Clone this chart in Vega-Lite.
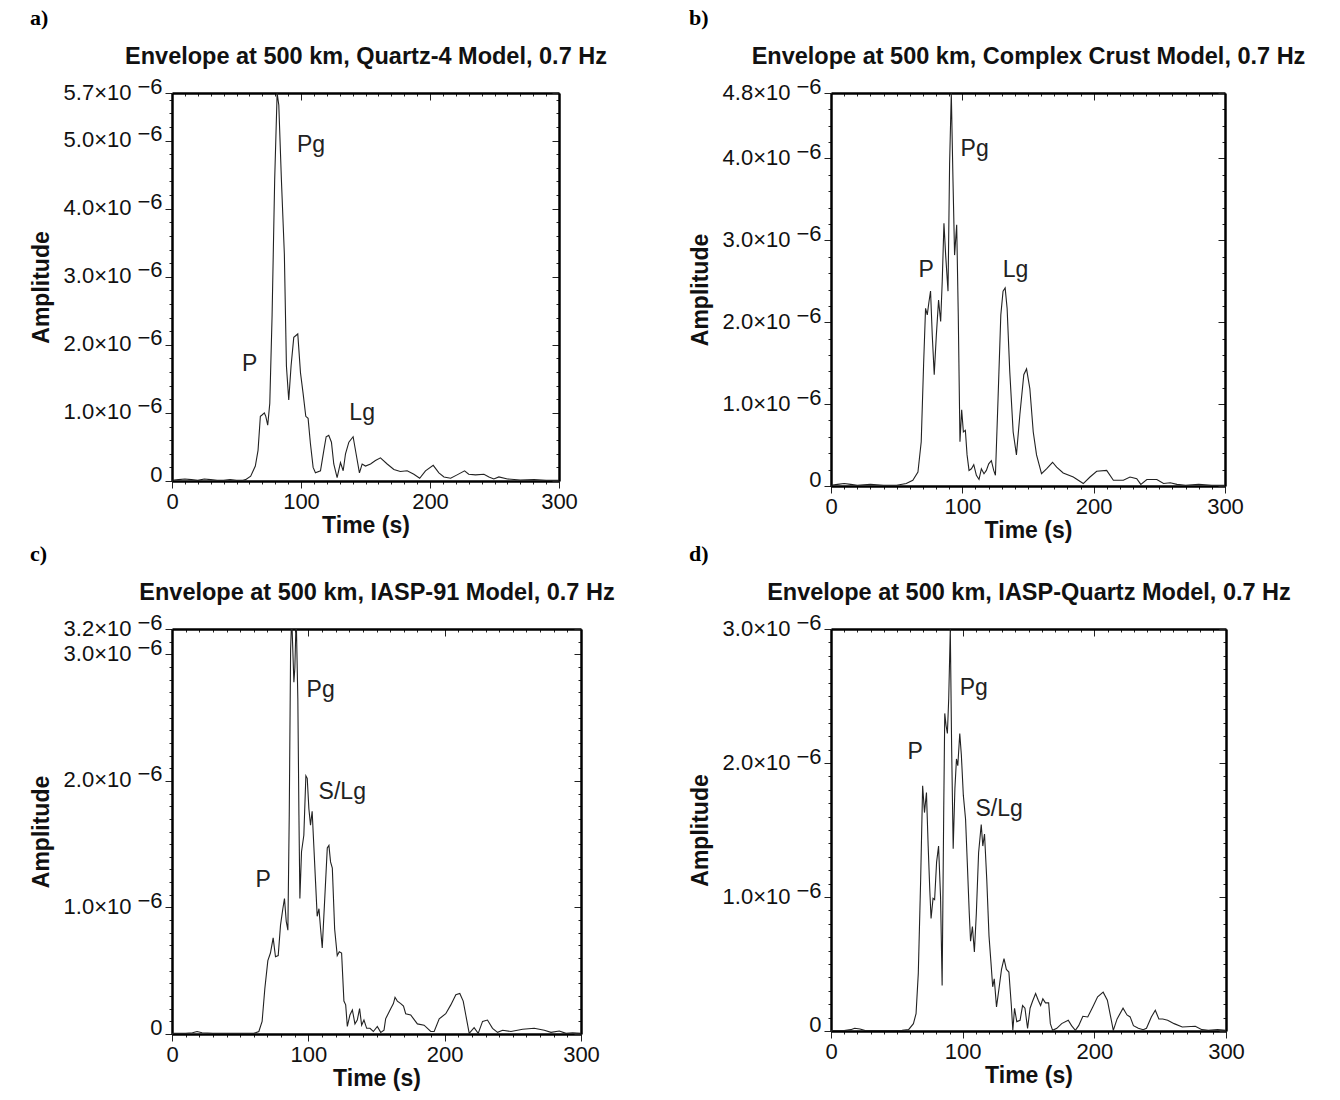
{
  "$schema": "https://vega.github.io/schema/vega-lite/v6.json",
  "background": "white",
  "padding": {"left": 30, "top": 6, "right": 5, "bottom": 5},
  "config": {
    "font": "Liberation Sans",
    "view": {"stroke": null},
    "axis": {"grid": false, "domainColor": "#000", "domainWidth": 2.5, "tickColor": "#222", "tickWidth": 1, "labelFont": "Liberation Sans", "labelFontSize": 22, "labelColor": "#111", "titleFont": "Liberation Sans", "titleFontSize": 23, "titleFontWeight": "bold", "titleColor": "#111", "labelFlush": false, "labelOverlap": false, "labelBound": false},
    "title": {"font": "Liberation Serif", "fontSize": 22, "fontWeight": "bold", "color": "#000", "anchor": "start", "frame": "bounds", "offset": 15}
  },
  "datasets": {
    "a": [{"t":0,"amp":0.01},{"t":5,"amp":0.02},{"t":10,"amp":0.03},{"t":15,"amp":0.02},{"t":20,"amp":0.01},{"t":25,"amp":0.03},{"t":30,"amp":0.02},{"t":35,"amp":0.01},{"t":40,"amp":0.01},{"t":45,"amp":0.02},{"t":50,"amp":0.01},{"t":55,"amp":0.01},{"t":57,"amp":0.02},{"t":61,"amp":0.07},{"t":64.6,"amp":0.22},{"t":66.7,"amp":0.45},{"t":68.5,"amp":0.95},{"t":69.8,"amp":0.97},{"t":71.6,"amp":1.0},{"t":72.7,"amp":0.95},{"t":74.2,"amp":0.82},{"t":75.8,"amp":1.14},{"t":77.6,"amp":2.44},{"t":79.6,"amp":4.43},{"t":81.5,"amp":5.7},{"t":82.8,"amp":5.52},{"t":84.8,"amp":4.43},{"t":87.1,"amp":3.33},{"t":88.7,"amp":1.69},{"t":90.5,"amp":1.19},{"t":92.3,"amp":1.69},{"t":94.4,"amp":2.11},{"t":97.5,"amp":2.16},{"t":99.6,"amp":1.59},{"t":101.6,"amp":1.29},{"t":103.7,"amp":0.95},{"t":105.5,"amp":0.92},{"t":107.3,"amp":0.55},{"t":109.4,"amp":0.2},{"t":111.2,"amp":0.12},{"t":115.1,"amp":0.15},{"t":117.7,"amp":0.45},{"t":119.5,"amp":0.65},{"t":121.5,"amp":0.67},{"t":123.6,"amp":0.57},{"t":125.4,"amp":0.25},{"t":128,"amp":0.05},{"t":130.6,"amp":0.27},{"t":132.7,"amp":0.15},{"t":134.5,"amp":0.4},{"t":137.1,"amp":0.57},{"t":140.4,"amp":0.65},{"t":142.7,"amp":0.4},{"t":145.3,"amp":0.12},{"t":147.4,"amp":0.25},{"t":150,"amp":0.22},{"t":153.9,"amp":0.25},{"t":157.7,"amp":0.3},{"t":161.6,"amp":0.34},{"t":166.8,"amp":0.25},{"t":172,"amp":0.17},{"t":177,"amp":0.14},{"t":182.3,"amp":0.15},{"t":187.5,"amp":0.1},{"t":192,"amp":0.04},{"t":196.5,"amp":0.15},{"t":202.5,"amp":0.23},{"t":206.9,"amp":0.12},{"t":210.8,"amp":0.06},{"t":216,"amp":0.04},{"t":221,"amp":0.09},{"t":226.8,"amp":0.15},{"t":230,"amp":0.1},{"t":235.3,"amp":0.09},{"t":241.8,"amp":0.1},{"t":245.7,"amp":0.06},{"t":249.5,"amp":0.03},{"t":253.4,"amp":0.06},{"t":260,"amp":0.03},{"t":270,"amp":0.015},{"t":280.6,"amp":0.02},{"t":290,"amp":0.01},{"t":300,"amp":0.01}],
    "b": [{"t":0,"amp":0.01},{"t":5,"amp":0.02},{"t":10,"amp":0.03},{"t":15,"amp":0.02},{"t":20,"amp":0.01},{"t":30,"amp":0.02},{"t":40,"amp":0.01},{"t":50,"amp":0.01},{"t":57.3,"amp":0.03},{"t":62.3,"amp":0.07},{"t":66.2,"amp":0.17},{"t":68.7,"amp":0.54},{"t":70.5,"amp":1.48},{"t":72,"amp":2.17},{"t":73.3,"amp":2.09},{"t":74.6,"amp":2.25},{"t":75.8,"amp":2.38},{"t":77.1,"amp":1.84},{"t":78.6,"amp":1.36},{"t":80.2,"amp":1.84},{"t":81.9,"amp":2.27},{"t":83.5,"amp":2.01},{"t":84.7,"amp":2.5},{"t":86,"amp":3.21},{"t":87.3,"amp":2.82},{"t":89.1,"amp":2.38},{"t":90.3,"amp":3.93},{"t":91.6,"amp":4.8},{"t":92.9,"amp":3.72},{"t":94.1,"amp":2.82},{"t":95.7,"amp":3.19},{"t":96.9,"amp":2.09},{"t":98.2,"amp":0.54},{"t":99.5,"amp":0.93},{"t":100.8,"amp":0.66},{"t":102.3,"amp":0.68},{"t":103.6,"amp":0.38},{"t":105.1,"amp":0.19},{"t":106.9,"amp":0.21},{"t":108.7,"amp":0.26},{"t":110.7,"amp":0.13},{"t":112.7,"amp":0.08},{"t":114.5,"amp":0.21},{"t":116.5,"amp":0.15},{"t":118.3,"amp":0.19},{"t":120.1,"amp":0.27},{"t":122.1,"amp":0.31},{"t":123.9,"amp":0.19},{"t":125.2,"amp":0.13},{"t":127.2,"amp":1.07},{"t":129.3,"amp":2.09},{"t":131,"amp":2.38},{"t":132.6,"amp":2.42},{"t":134.1,"amp":2.17},{"t":136.1,"amp":1.4},{"t":138.7,"amp":0.66},{"t":141.2,"amp":0.38},{"t":143.8,"amp":0.87},{"t":146.8,"amp":1.36},{"t":148.9,"amp":1.43},{"t":151.4,"amp":1.19},{"t":154,"amp":0.66},{"t":156.5,"amp":0.38},{"t":160.3,"amp":0.15},{"t":164.1,"amp":0.21},{"t":168.7,"amp":0.29},{"t":171.8,"amp":0.23},{"t":176.8,"amp":0.16},{"t":184.5,"amp":0.11},{"t":192.1,"amp":0.03},{"t":197.2,"amp":0.11},{"t":202.3,"amp":0.18},{"t":209.9,"amp":0.19},{"t":215,"amp":0.07},{"t":222.6,"amp":0.07},{"t":227.7,"amp":0.11},{"t":232.8,"amp":0.09},{"t":235.9,"amp":0.02},{"t":240.5,"amp":0.08},{"t":248.1,"amp":0.08},{"t":253.2,"amp":0.03},{"t":258.3,"amp":0.04},{"t":263.4,"amp":0.02},{"t":270,"amp":0.01},{"t":280,"amp":0.02},{"t":290,"amp":0.01},{"t":300,"amp":0.01}],
    "c": [{"t":0,"amp":0.005},{"t":10,"amp":0.005},{"t":15,"amp":0.01},{"t":18.4,"amp":0.02},{"t":22,"amp":0.01},{"t":30,"amp":0.005},{"t":40,"amp":0.005},{"t":50,"amp":0.005},{"t":60,"amp":0.005},{"t":63.7,"amp":0.02},{"t":66.1,"amp":0.1},{"t":68.1,"amp":0.36},{"t":70.3,"amp":0.58},{"t":72.2,"amp":0.64},{"t":74.2,"amp":0.76},{"t":75.9,"amp":0.61},{"t":77.9,"amp":0.62},{"t":79.6,"amp":0.86},{"t":81.3,"amp":0.99},{"t":82.5,"amp":1.07},{"t":83.8,"amp":0.89},{"t":85,"amp":0.82},{"t":86,"amp":1.73},{"t":87,"amp":3.04},{"t":87.8,"amp":3.3},{"t":89.4,"amp":2.78},{"t":90.1,"amp":2.89},{"t":91.1,"amp":3.3},{"t":92.3,"amp":2.65},{"t":93.1,"amp":1.73},{"t":93.8,"amp":1.07},{"t":95,"amp":1.44},{"t":96.7,"amp":1.57},{"t":98.2,"amp":2.04},{"t":99.2,"amp":2.02},{"t":100.4,"amp":1.78},{"t":101.6,"amp":1.65},{"t":102.8,"amp":1.76},{"t":104.1,"amp":1.47},{"t":105.3,"amp":1.2},{"t":106.5,"amp":0.93},{"t":107.8,"amp":0.99},{"t":109,"amp":0.83},{"t":110.2,"amp":0.68},{"t":111.9,"amp":1.04},{"t":113.9,"amp":1.47},{"t":115.1,"amp":1.49},{"t":116.3,"amp":1.36},{"t":117.6,"amp":1.31},{"t":119.3,"amp":0.83},{"t":121.2,"amp":0.62},{"t":122.7,"amp":0.65},{"t":124.4,"amp":0.64},{"t":126.1,"amp":0.26},{"t":127.4,"amp":0.23},{"t":128.6,"amp":0.06},{"t":130.5,"amp":0.15},{"t":132.3,"amp":0.19},{"t":134.2,"amp":0.08},{"t":135.9,"amp":0.11},{"t":137.6,"amp":0.2},{"t":139.1,"amp":0.07},{"t":140.8,"amp":0.11},{"t":142.8,"amp":0.045},{"t":145.2,"amp":0.045},{"t":147.7,"amp":0.02},{"t":150.6,"amp":0.06},{"t":153.1,"amp":0.013},{"t":155.5,"amp":0.03},{"t":156.7,"amp":0.12},{"t":160.4,"amp":0.2},{"t":162.4,"amp":0.24},{"t":163.6,"amp":0.29},{"t":165.3,"amp":0.26},{"t":167.8,"amp":0.24},{"t":169.8,"amp":0.22},{"t":171.4,"amp":0.16},{"t":175.1,"amp":0.15},{"t":180,"amp":0.08},{"t":184.9,"amp":0.07},{"t":189.8,"amp":0.02},{"t":192.3,"amp":0.02},{"t":196,"amp":0.12},{"t":200.8,"amp":0.16},{"t":204.5,"amp":0.23},{"t":208.2,"amp":0.31},{"t":211.1,"amp":0.32},{"t":213.6,"amp":0.26},{"t":215.5,"amp":0.15},{"t":218,"amp":0.005},{"t":221.6,"amp":0.05},{"t":224.6,"amp":0.005},{"t":227.8,"amp":0.1},{"t":231.4,"amp":0.11},{"t":235.1,"amp":0.045},{"t":238.8,"amp":0.013},{"t":242.5,"amp":0.03},{"t":248.6,"amp":0.02},{"t":257.2,"amp":0.037},{"t":265.7,"amp":0.045},{"t":273.1,"amp":0.03},{"t":278,"amp":0.013},{"t":284.1,"amp":0.024},{"t":289,"amp":0.005},{"t":293.9,"amp":0.01},{"t":300,"amp":0.005}],
    "d": [{"t":0,"amp":0.003},{"t":10,"amp":0.003},{"t":15,"amp":0.01},{"t":18,"amp":0.02},{"t":22,"amp":0.015},{"t":26,"amp":0.003},{"t":40,"amp":0.003},{"t":54,"amp":0.005},{"t":58.9,"amp":0.01},{"t":62.6,"amp":0.055},{"t":64.6,"amp":0.13},{"t":66.3,"amp":0.43},{"t":68.1,"amp":1.13},{"t":69.6,"amp":1.83},{"t":71,"amp":1.63},{"t":72.5,"amp":1.78},{"t":73.8,"amp":1.38},{"t":75,"amp":1.06},{"t":76,"amp":0.84},{"t":77.5,"amp":0.99},{"t":78.7,"amp":0.98},{"t":80.2,"amp":1.26},{"t":81.7,"amp":1.38},{"t":83.2,"amp":1.0},{"t":84.4,"amp":0.34},{"t":85.6,"amp":1.63},{"t":86.4,"amp":2.37},{"t":87.4,"amp":2.28},{"t":88.4,"amp":2.22},{"t":89.4,"amp":2.48},{"t":90.6,"amp":3.0},{"t":91.6,"amp":2.13},{"t":92.8,"amp":1.36},{"t":94.1,"amp":1.81},{"t":95.3,"amp":2.03},{"t":96.3,"amp":1.98},{"t":97.8,"amp":2.22},{"t":99,"amp":2.06},{"t":100.5,"amp":1.76},{"t":102.2,"amp":1.58},{"t":103.5,"amp":1.26},{"t":105,"amp":0.88},{"t":106,"amp":0.67},{"t":107.4,"amp":0.78},{"t":108.9,"amp":0.59},{"t":110.4,"amp":0.88},{"t":112.1,"amp":1.33},{"t":114.1,"amp":1.54},{"t":115.3,"amp":1.38},{"t":116.6,"amp":1.47},{"t":118.3,"amp":1.13},{"t":120,"amp":0.71},{"t":121.5,"amp":0.51},{"t":122.8,"amp":0.33},{"t":124,"amp":0.39},{"t":125.7,"amp":0.18},{"t":127.5,"amp":0.31},{"t":129.5,"amp":0.46},{"t":131.4,"amp":0.54},{"t":133.2,"amp":0.46},{"t":135.1,"amp":0.44},{"t":136.9,"amp":0.2},{"t":138.1,"amp":0.005},{"t":139.4,"amp":0.17},{"t":141.1,"amp":0.07},{"t":143.6,"amp":0.08},{"t":145.5,"amp":0.19},{"t":147.3,"amp":0.17},{"t":149.3,"amp":0.02},{"t":151.2,"amp":0.17},{"t":153,"amp":0.22},{"t":155.4,"amp":0.28},{"t":157.4,"amp":0.23},{"t":159.2,"amp":0.19},{"t":160.9,"amp":0.24},{"t":162.9,"amp":0.21},{"t":165.3,"amp":0.21},{"t":166.6,"amp":0.055},{"t":168.3,"amp":0.005},{"t":171.5,"amp":0.02},{"t":175.2,"amp":0.055},{"t":180.2,"amp":0.08},{"t":182.7,"amp":0.04},{"t":185.6,"amp":0.005},{"t":188.1,"amp":0.04},{"t":191.3,"amp":0.11},{"t":195,"amp":0.105},{"t":198.8,"amp":0.18},{"t":202.5,"amp":0.255},{"t":206.7,"amp":0.29},{"t":209.9,"amp":0.23},{"t":212.4,"amp":0.105},{"t":214.4,"amp":0.005},{"t":217.3,"amp":0.09},{"t":221.8,"amp":0.17},{"t":224.8,"amp":0.12},{"t":227.2,"amp":0.105},{"t":229.7,"amp":0.04},{"t":233.4,"amp":0.02},{"t":237.1,"amp":0.01},{"t":239.6,"amp":0.02},{"t":243.3,"amp":0.105},{"t":246.3,"amp":0.155},{"t":249,"amp":0.09},{"t":252,"amp":0.09},{"t":255.7,"amp":0.08},{"t":260.6,"amp":0.055},{"t":266.8,"amp":0.03},{"t":276.7,"amp":0.035},{"t":281.7,"amp":0.01},{"t":286.6,"amp":0.005},{"t":293.6,"amp":0.01},{"t":300,"amp":0.005}],
    "notes": [{"panel":"a","t":60.3,"amp":1.72,"label":"P"},{"panel":"a","t":107.8,"amp":4.93,"label":"Pg"},{"panel":"a","t":147.4,"amp":1.0,"label":"Lg"},{"panel":"b","t":72.5,"amp":2.64,"label":"P"},{"panel":"b","t":109.4,"amp":4.11,"label":"Pg"},{"panel":"b","t":140.5,"amp":2.64,"label":"Lg"},{"panel":"c","t":66.9,"amp":1.22,"label":"P"},{"panel":"c","t":109,"amp":2.72,"label":"Pg"},{"panel":"c","t":124.9,"amp":1.91,"label":"S/Lg"},{"panel":"d","t":63.9,"amp":2.08,"label":"P"},{"panel":"d","t":108.4,"amp":2.56,"label":"Pg"},{"panel":"d","t":127.7,"amp":1.66,"label":"S/Lg"}]
  },
  "columns": 2,
  "bounds": "flush",
  "spacing": {"row": 143, "column": 250},
  "concat": [
    {
      "width": 387, "height": 388,
      "title": {"text": "a)"},
      "layer": [
        {"data": {"name": "a"}, "mark": {"type": "line", "color": "#222", "strokeWidth": 1.1, "clip": true},
         "encoding": {
           "x": {"field": "t", "type": "quantitative", "scale": {"domain": [0, 300], "nice": false}, "axis": {"orient": "bottom", "title": "Time (s)", "values": [0,10,20,30,40,50,60,70,80,90,100,110,120,130,140,150,160,170,180,190,200,210,220,230,240,250,260,270,280,290,300], "labelExpr": "datum.value % 100 === 0 ? datum.label : ''", "tickSize": {"condition": {"test": "datum.value % 100 === 0", "value": 7}, "value": 3}, "labelPadding": 3, "titlePadding": 2}},
           "y": {"field": "amp", "type": "quantitative", "scale": {"domain": [0, 5.7], "nice": false, "zero": false}, "axis": {"orient": "left", "title": "Amplitude", "values": [0,0.2,0.4,0.6,0.8,1,1.2,1.4,1.6,1.8,2,2.2,2.4,2.6,2.8,3,3.2,3.4,3.6,3.8,4,4.2,4.4,4.6,4.8,5,5.2,5.4,5.6,5.7], "labelExpr": "indexof([1,2,3,4,5,5.7], datum.value) >= 0 ? format(datum.value, '.1f') + '×10' : ''", "labelOffset": -1, "tickSize": {"condition": {"test": "indexof([0,1,2,3,4,5,5.7], datum.value) >= 0", "value": 7}, "value": 3}, "labelPadding": 34, "titlePadding": 10}}
         }},
        {"data": {"name": "notes"}, "transform": [{"filter": "datum.panel === 'a'"}], "mark": {"type": "text", "fontSize": 23, "color": "#222", "font": "Liberation Sans"},
         "encoding": {
           "x": {"field": "t", "type": "quantitative", "scale": {"domain": [0, 300], "nice": false}, "axis": {"orient": "top", "title": "Envelope at 500 km, Quartz-4 Model, 0.7 Hz", "titleFontSize": 23.5, "labels": false, "values": [0,10,20,30,40,50,60,70,80,90,100,110,120,130,140,150,160,170,180,190,200,210,220,230,240,250,260,270,280,290,300], "tickSize": {"condition": {"test": "datum.value % 100 === 0", "value": -7}, "value": -3}, "titlePadding": 24}},
           "y": {"field": "amp", "type": "quantitative", "scale": {"domain": [0, 5.7], "nice": false, "zero": false}, "axis": {"orient": "right", "title": null, "labels": false, "values": [0,0.2,0.4,0.6,0.8,1,1.2,1.4,1.6,1.8,2,2.2,2.4,2.6,2.8,3,3.2,3.4,3.6,3.8,4,4.2,4.4,4.6,4.8,5,5.2,5.4,5.6,5.7], "tickSize": {"condition": {"test": "indexof([0,1,2,3,4,5,5.7], datum.value) >= 0", "value": -7}, "value": -3}}},
           "text": {"field": "label"}
         }},
        {"data": {"name": "notes"}, "transform": [{"filter": "datum.panel === 'none'"}], "mark": {"type": "point", "opacity": 0},
         "encoding": {
           "x": {"field": "t", "type": "quantitative", "scale": {"domain": [0, 300], "nice": false}, "axis": null},
           "y": {"field": "amp", "type": "quantitative", "scale": {"domain": [0, 5.7], "nice": false, "zero": false}, "axis": {"orient": "left", "title": null, "domain": false, "ticks": false, "values": [0,1,2,3,4,5,5.7], "labelExpr": "datum.value === 0 ? '0' : '\u22126'", "labelOffset": -7, "labelPadding": 10}}
         }}
      ],
      "resolve": {"axis": {"x": "independent", "y": "independent"}}
    },
    {
      "width": 394, "height": 393,
      "title": {"text": "b)"},
      "layer": [
        {"data": {"name": "b"}, "mark": {"type": "line", "color": "#222", "strokeWidth": 1.1, "clip": true},
         "encoding": {
           "x": {"field": "t", "type": "quantitative", "scale": {"domain": [0, 300], "nice": false}, "axis": {"orient": "bottom", "title": "Time (s)", "values": [0,10,20,30,40,50,60,70,80,90,100,110,120,130,140,150,160,170,180,190,200,210,220,230,240,250,260,270,280,290,300], "labelExpr": "datum.value % 100 === 0 ? datum.label : ''", "tickSize": {"condition": {"test": "datum.value % 100 === 0", "value": 7}, "value": 3}, "labelPadding": 3, "titlePadding": 2}},
           "y": {"field": "amp", "type": "quantitative", "scale": {"domain": [0, 4.8], "nice": false, "zero": false}, "axis": {"orient": "left", "title": "Amplitude", "values": [0,0.2,0.4,0.6,0.8,1,1.2,1.4,1.6,1.8,2,2.2,2.4,2.6,2.8,3,3.2,3.4,3.6,3.8,4,4.2,4.4,4.6,4.8], "labelExpr": "indexof([1,2,3,4,4.8], datum.value) >= 0 ? format(datum.value, '.1f') + '×10' : ''", "labelOffset": -1, "tickSize": {"condition": {"test": "indexof([0,1,2,3,4,4.8], datum.value) >= 0", "value": 7}, "value": 3}, "labelPadding": 34, "titlePadding": 10}}
         }},
        {"data": {"name": "notes"}, "transform": [{"filter": "datum.panel === 'b'"}], "mark": {"type": "text", "fontSize": 23, "color": "#222", "font": "Liberation Sans"},
         "encoding": {
           "x": {"field": "t", "type": "quantitative", "scale": {"domain": [0, 300], "nice": false}, "axis": {"orient": "top", "title": "Envelope at 500 km, Complex Crust Model, 0.7 Hz", "titleFontSize": 23.5, "labels": false, "values": [0,10,20,30,40,50,60,70,80,90,100,110,120,130,140,150,160,170,180,190,200,210,220,230,240,250,260,270,280,290,300], "tickSize": {"condition": {"test": "datum.value % 100 === 0", "value": -7}, "value": -3}, "titlePadding": 24}},
           "y": {"field": "amp", "type": "quantitative", "scale": {"domain": [0, 4.8], "nice": false, "zero": false}, "axis": {"orient": "right", "title": null, "labels": false, "values": [0,0.2,0.4,0.6,0.8,1,1.2,1.4,1.6,1.8,2,2.2,2.4,2.6,2.8,3,3.2,3.4,3.6,3.8,4,4.2,4.4,4.6,4.8], "tickSize": {"condition": {"test": "indexof([0,1,2,3,4,4.8], datum.value) >= 0", "value": -7}, "value": -3}}},
           "text": {"field": "label"}
         }},
        {"data": {"name": "notes"}, "transform": [{"filter": "datum.panel === 'none'"}], "mark": {"type": "point", "opacity": 0},
         "encoding": {
           "x": {"field": "t", "type": "quantitative", "scale": {"domain": [0, 300], "nice": false}, "axis": null},
           "y": {"field": "amp", "type": "quantitative", "scale": {"domain": [0, 4.8], "nice": false, "zero": false}, "axis": {"orient": "left", "title": null, "domain": false, "ticks": false, "values": [0,1,2,3,4,4.8], "labelExpr": "datum.value === 0 ? '0' : '\u22126'", "labelOffset": -7, "labelPadding": 10}}
         }}
      ],
      "resolve": {"axis": {"x": "independent", "y": "independent"}}
    },
    {
      "width": 409, "height": 405,
      "title": {"text": "c)"},
      "layer": [
        {"data": {"name": "c"}, "mark": {"type": "line", "color": "#222", "strokeWidth": 1.1, "clip": true},
         "encoding": {
           "x": {"field": "t", "type": "quantitative", "scale": {"domain": [0, 300], "nice": false}, "axis": {"orient": "bottom", "title": "Time (s)", "values": [0,10,20,30,40,50,60,70,80,90,100,110,120,130,140,150,160,170,180,190,200,210,220,230,240,250,260,270,280,290,300], "labelExpr": "datum.value % 100 === 0 ? datum.label : ''", "tickSize": {"condition": {"test": "datum.value % 100 === 0", "value": 7}, "value": 3}, "labelPadding": 3, "titlePadding": 2}},
           "y": {"field": "amp", "type": "quantitative", "scale": {"domain": [0, 3.2], "nice": false, "zero": false}, "axis": {"orient": "left", "title": "Amplitude", "values": [0,0.1,0.2,0.3,0.4,0.5,0.6,0.7,0.8,0.9,1,1.1,1.2,1.3,1.4,1.5,1.6,1.7,1.8,1.9,2,2.1,2.2,2.3,2.4,2.5,2.6,2.7,2.8,2.9,3,3.1,3.2], "labelExpr": "indexof([1,2,3,3.2], datum.value) >= 0 ? format(datum.value, '.1f') + '×10' : ''", "labelOffset": -1, "tickSize": {"condition": {"test": "indexof([0,1,2,3,3.2], datum.value) >= 0", "value": 7}, "value": 3}, "labelPadding": 34, "titlePadding": 10}}
         }},
        {"data": {"name": "notes"}, "transform": [{"filter": "datum.panel === 'c'"}], "mark": {"type": "text", "fontSize": 23, "color": "#222", "font": "Liberation Sans"},
         "encoding": {
           "x": {"field": "t", "type": "quantitative", "scale": {"domain": [0, 300], "nice": false}, "axis": {"orient": "top", "title": "Envelope at 500 km, IASP-91 Model, 0.7 Hz", "titleFontSize": 23.5, "labels": false, "values": [0,10,20,30,40,50,60,70,80,90,100,110,120,130,140,150,160,170,180,190,200,210,220,230,240,250,260,270,280,290,300], "tickSize": {"condition": {"test": "datum.value % 100 === 0", "value": -7}, "value": -3}, "titlePadding": 24}},
           "y": {"field": "amp", "type": "quantitative", "scale": {"domain": [0, 3.2], "nice": false, "zero": false}, "axis": {"orient": "right", "title": null, "labels": false, "values": [0,0.1,0.2,0.3,0.4,0.5,0.6,0.7,0.8,0.9,1,1.1,1.2,1.3,1.4,1.5,1.6,1.7,1.8,1.9,2,2.1,2.2,2.3,2.4,2.5,2.6,2.7,2.8,2.9,3,3.1,3.2], "tickSize": {"condition": {"test": "indexof([0,1,2,3,3.2], datum.value) >= 0", "value": -7}, "value": -3}}},
           "text": {"field": "label"}
         }},
        {"data": {"name": "notes"}, "transform": [{"filter": "datum.panel === 'none'"}], "mark": {"type": "point", "opacity": 0},
         "encoding": {
           "x": {"field": "t", "type": "quantitative", "scale": {"domain": [0, 300], "nice": false}, "axis": null},
           "y": {"field": "amp", "type": "quantitative", "scale": {"domain": [0, 3.2], "nice": false, "zero": false}, "axis": {"orient": "left", "title": null, "domain": false, "ticks": false, "values": [0,1,2,3,3.2], "labelExpr": "datum.value === 0 ? '0' : '\u22126'", "labelOffset": -7, "labelPadding": 10}}
         }}
      ],
      "resolve": {"axis": {"x": "independent", "y": "independent"}}
    },
    {
      "width": 395, "height": 402,
      "title": {"text": "d)"},
      "layer": [
        {"data": {"name": "d"}, "mark": {"type": "line", "color": "#222", "strokeWidth": 1.1, "clip": true},
         "encoding": {
           "x": {"field": "t", "type": "quantitative", "scale": {"domain": [0, 300], "nice": false}, "axis": {"orient": "bottom", "title": "Time (s)", "values": [0,10,20,30,40,50,60,70,80,90,100,110,120,130,140,150,160,170,180,190,200,210,220,230,240,250,260,270,280,290,300], "labelExpr": "datum.value % 100 === 0 ? datum.label : ''", "tickSize": {"condition": {"test": "datum.value % 100 === 0", "value": 7}, "value": 3}, "labelPadding": 3, "titlePadding": 2}},
           "y": {"field": "amp", "type": "quantitative", "scale": {"domain": [0, 3.0], "nice": false, "zero": false}, "axis": {"orient": "left", "title": "Amplitude", "values": [0,0.1,0.2,0.3,0.4,0.5,0.6,0.7,0.8,0.9,1,1.1,1.2,1.3,1.4,1.5,1.6,1.7,1.8,1.9,2,2.1,2.2,2.3,2.4,2.5,2.6,2.7,2.8,2.9,3], "labelExpr": "indexof([1,2,3], datum.value) >= 0 ? format(datum.value, '.1f') + '×10' : ''", "labelOffset": -1, "tickSize": {"condition": {"test": "indexof([0,1,2,3], datum.value) >= 0", "value": 7}, "value": 3}, "labelPadding": 34, "titlePadding": 10}}
         }},
        {"data": {"name": "notes"}, "transform": [{"filter": "datum.panel === 'd'"}], "mark": {"type": "text", "fontSize": 23, "color": "#222", "font": "Liberation Sans"},
         "encoding": {
           "x": {"field": "t", "type": "quantitative", "scale": {"domain": [0, 300], "nice": false}, "axis": {"orient": "top", "title": "Envelope at 500 km, IASP-Quartz Model, 0.7 Hz", "titleFontSize": 23.5, "labels": false, "values": [0,10,20,30,40,50,60,70,80,90,100,110,120,130,140,150,160,170,180,190,200,210,220,230,240,250,260,270,280,290,300], "tickSize": {"condition": {"test": "datum.value % 100 === 0", "value": -7}, "value": -3}, "titlePadding": 24}},
           "y": {"field": "amp", "type": "quantitative", "scale": {"domain": [0, 3.0], "nice": false, "zero": false}, "axis": {"orient": "right", "title": null, "labels": false, "values": [0,0.1,0.2,0.3,0.4,0.5,0.6,0.7,0.8,0.9,1,1.1,1.2,1.3,1.4,1.5,1.6,1.7,1.8,1.9,2,2.1,2.2,2.3,2.4,2.5,2.6,2.7,2.8,2.9,3], "tickSize": {"condition": {"test": "indexof([0,1,2,3], datum.value) >= 0", "value": -7}, "value": -3}}},
           "text": {"field": "label"}
         }},
        {"data": {"name": "notes"}, "transform": [{"filter": "datum.panel === 'none'"}], "mark": {"type": "point", "opacity": 0},
         "encoding": {
           "x": {"field": "t", "type": "quantitative", "scale": {"domain": [0, 300], "nice": false}, "axis": null},
           "y": {"field": "amp", "type": "quantitative", "scale": {"domain": [0, 3.0], "nice": false, "zero": false}, "axis": {"orient": "left", "title": null, "domain": false, "ticks": false, "values": [0,1,2,3], "labelExpr": "datum.value === 0 ? '0' : '\u22126'", "labelOffset": -7, "labelPadding": 10}}
         }}
      ],
      "resolve": {"axis": {"x": "independent", "y": "independent"}}
    }
  ]
}
